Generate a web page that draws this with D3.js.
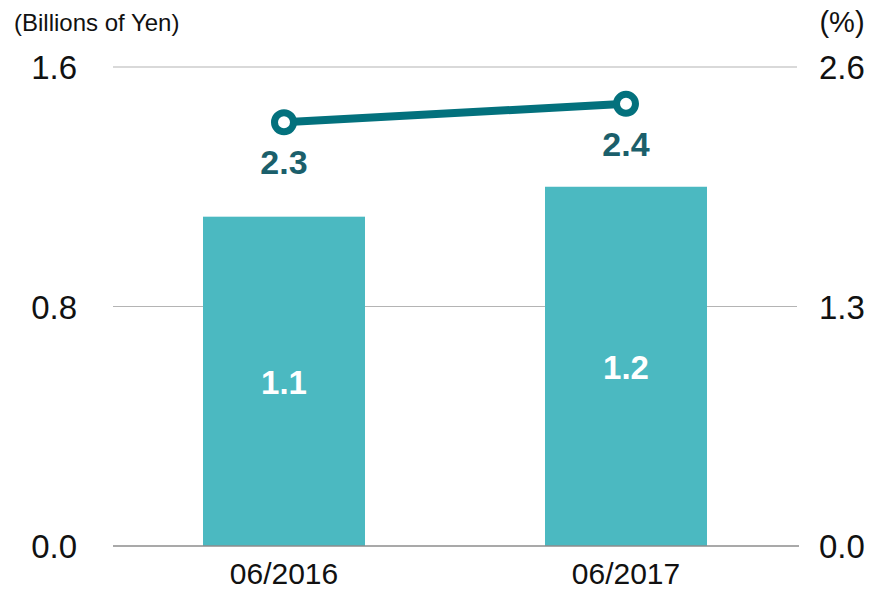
<!DOCTYPE html>
<html>
<head>
<meta charset="utf-8">
<script src="https://cdn.jsdelivr.net/npm/d3@7"></script>
<style>
  body { margin: 0; background: #fff; }
  text { font-family: "Liberation Sans", Arial, sans-serif; }
</style>
</head>
<body>
<div id="chart"></div>
<script>
const categories = ["06/2016", "06/2017"];
const barValues = [1.1, 1.2];
const lineValues = [2.3, 2.4];
const leftTicks = [0, 0.8, 1.6];
const rightTicks = [0, 1.3, 2.6];

const width = 885, height = 592;
const svg = d3.select("#chart").append("svg")
  .attr("width", width).attr("height", height);

const x = d3.scaleBand().domain(categories).range([113, 797]).paddingInner(0).paddingOuter(0);
const yL = d3.scaleLinear().domain([0, 1.6]).range([546, 67]);
const yR = d3.scaleLinear().domain([0, 2.6]).range([546, 67]);
const barW = 162;

// gridlines
svg.append("g").selectAll("line")
  .data(leftTicks.filter(d => d > 0))
  .join("line")
  .attr("x1", 113).attr("x2", 797)
  .attr("y1", d => yL(d)).attr("y2", d => yL(d))
  .attr("stroke", "#b4b4b4").attr("stroke-width", 1.2);

// bars
svg.append("g").selectAll("rect")
  .data(barValues)
  .join("rect")
  .attr("x", (d, i) => x(categories[i]) + x.bandwidth() / 2 - barW / 2)
  .attr("width", barW)
  .attr("y", d => yL(d))
  .attr("height", d => yL(0) - yL(d))
  .attr("fill", "#4bb9c1");

// baseline
svg.append("line")
  .attr("x1", 113).attr("x2", 799)
  .attr("y1", yL(0)).attr("y2", yL(0))
  .attr("stroke", "#8c8c8c").attr("stroke-width", 1.5);

// bar labels
svg.append("g").selectAll("text")
  .data(barValues)
  .join("text")
  .attr("x", (d, i) => x(categories[i]) + x.bandwidth() / 2)
  .attr("y", d => (yL(d) + yL(0)) / 2 + 13)
  .attr("text-anchor", "middle")
  .attr("font-size", 33).attr("font-weight", "bold")
  .attr("fill", "#ffffff")
  .text(d => d.toFixed(1));

// line
const line = d3.line()
  .x((d, i) => x(categories[i]) + x.bandwidth() / 2)
  .y(d => yR(d));

svg.append("path")
  .datum(lineValues)
  .attr("d", line)
  .attr("fill", "none")
  .attr("stroke", "#03717d")
  .attr("stroke-width", 8);

svg.append("g").selectAll("circle")
  .data(lineValues)
  .join("circle")
  .attr("cx", (d, i) => x(categories[i]) + x.bandwidth() / 2)
  .attr("cy", d => yR(d))
  .attr("r", 9.5)
  .attr("fill", "#fff")
  .attr("stroke", "#03717d")
  .attr("stroke-width", 7);

svg.append("g").selectAll("text")
  .data(lineValues)
  .join("text")
  .attr("x", (d, i) => x(categories[i]) + x.bandwidth() / 2)
  .attr("y", d => yR(d) + 52)
  .attr("text-anchor", "middle")
  .attr("font-size", 34).attr("font-weight", "bold")
  .attr("fill", "#1b5f6b")
  .text(d => d.toFixed(1));

// left axis labels
svg.append("g").selectAll("text")
  .data(leftTicks)
  .join("text")
  .attr("x", 77)
  .attr("y", d => yL(d) + 12)
  .attr("text-anchor", "end")
  .attr("font-size", 33)
  .attr("fill", "#111")
  .text(d => d.toFixed(1));

// right axis labels
svg.append("g").selectAll("text")
  .data(rightTicks)
  .join("text")
  .attr("x", 819)
  .attr("y", d => yR(d) + 12)
  .attr("text-anchor", "start")
  .attr("font-size", 33)
  .attr("fill", "#111")
  .text(d => d.toFixed(1));

// category labels
svg.append("g").selectAll("text")
  .data(categories)
  .join("text")
  .attr("x", d => x(d) + x.bandwidth() / 2)
  .attr("y", 584)
  .attr("text-anchor", "middle")
  .attr("font-size", 30)
  .attr("fill", "#111")
  .text(d => d);

// unit labels
svg.append("text")
  .attr("x", 14).attr("y", 31)
  .attr("font-size", 24)
  .attr("fill", "#111")
  .text("(Billions of Yen)");

svg.append("text")
  .attr("x", 842).attr("y", 32)
  .attr("text-anchor", "middle")
  .attr("font-size", 29)
  .attr("fill", "#111")
  .text("(%)");
</script>
</body>
</html>
